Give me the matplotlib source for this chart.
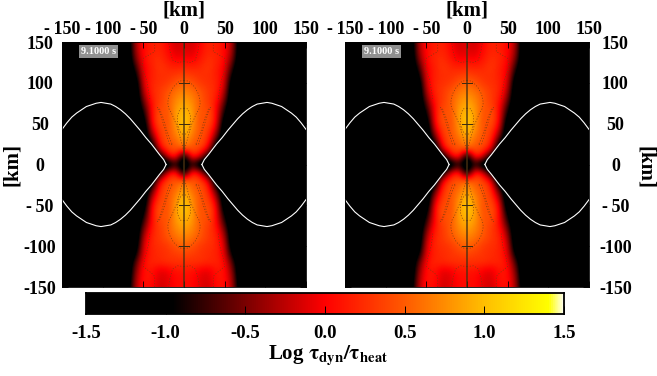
import numpy as np
import matplotlib
matplotlib.use("Agg")
import matplotlib.pyplot as plt
from matplotlib.colors import LinearSegmentedColormap

plt.rcParams["font.family"] = ["Liberation Serif", "DejaVu Serif"]
plt.rcParams["font.weight"] = "bold"
plt.rcParams["mathtext.fontset"] = "stix"

# log tau values, columns are |x| = 0, 10, ... 80 km
tau_rows = [
    [-0.10, -0.20, 0.00, 0.20, 0.15, 0.05, -0.30, -1.5, -1.5],
    [-0.10, -0.15, 0.05, 0.20, 0.15, 0.05, -0.35, -1.5, -1.5],
    [0.00, -0.05, 0.10, 0.25, 0.20, 0.05, -0.50, -1.5, -1.5],
    [0.20, 0.15, 0.20, 0.30, 0.15, 0.00, -0.80, -1.5, -1.5],
    [0.35, 0.30, 0.25, 0.25, 0.15, -0.05, -1.10, -1.5, -1.5],
    [0.55, 0.45, 0.30, 0.25, 0.20, -0.10, -1.40, -1.5, -1.5],
    [0.70, 0.60, 0.45, 0.30, 0.20, -0.25, -1.5, -1.5, -1.5],
    [0.85, 0.70, 0.50, 0.30, 0.15, -0.50, -1.5, -1.5, -1.5],
    [0.95, 0.80, 0.45, 0.40, 0.05, -0.80, -1.5, -1.5, -1.5],
    [1.05, 0.85, 0.40, 0.50, 0.05, -1.10, -1.5, -1.5, -1.5],
    [1.10, 0.80, 0.40, 0.45, 0.00, -1.40, -1.5, -1.5, -1.5],
    [1.05, 0.70, 0.45, 0.35, -0.30, -1.5, -1.5, -1.5, -1.5],
    [0.85, 0.55, 0.45, 0.25, -0.80, -1.5, -1.5, -1.5, -1.5],
    [0.60, 0.45, 0.40, 0.00, -1.5, -1.5, -1.5, -1.5, -1.5],
    [-1.30, 0.30, -0.10, -1.20, -1.5, -1.5, -1.5, -1.5, -1.5],
    [-1.5, -0.9, -1.5, -1.5, -1.5, -1.5, -1.5, -1.5, -1.5],
    [-1.30, 0.30, -0.10, -1.20, -1.5, -1.5, -1.5, -1.5, -1.5],
    [0.60, 0.45, 0.40, 0.00, -1.5, -1.5, -1.5, -1.5, -1.5],
    [0.85, 0.55, 0.45, 0.25, -0.80, -1.5, -1.5, -1.5, -1.5],
    [1.05, 0.70, 0.45, 0.35, -0.30, -1.5, -1.5, -1.5, -1.5],
    [1.10, 0.80, 0.40, 0.45, 0.00, -1.40, -1.5, -1.5, -1.5],
    [1.05, 0.85, 0.40, 0.50, 0.05, -1.10, -1.5, -1.5, -1.5],
    [0.95, 0.80, 0.45, 0.40, 0.05, -0.80, -1.5, -1.5, -1.5],
    [0.85, 0.70, 0.50, 0.30, 0.15, -0.50, -1.5, -1.5, -1.5],
    [0.70, 0.60, 0.45, 0.30, 0.20, -0.25, -1.5, -1.5, -1.5],
    [0.55, 0.45, 0.30, 0.25, 0.20, -0.10, -1.40, -1.5, -1.5],
    [0.38, 0.32, 0.28, 0.22, 0.18, -0.05, -1.10, -1.5, -1.5],
    [0.25, 0.25, 0.25, 0.20, 0.20, 0.05, -0.70, -1.5, -1.5],
    [0.10, 0.10, -0.05, -0.10, 0.10, 0.10, -0.50, -1.5, -1.5],
    [0.05, 0.05, -0.10, -0.15, 0.10, 0.10, -0.35, -1.5, -1.5],
    [0.05, 0.05, -0.10, -0.20, 0.05, 0.10, -0.30, -1.40, -1.5],
]

# white curve, one quarter of it
curve_x = [22, 25, 30, 40, 47, 54, 60, 66, 72, 78, 84, 90, 96, 102, 108, 114, 120, 126, 132, 138, 144, 150]
curve_y = [0, 6, 12, 25, 33, 42, 49, 56, 62, 67, 71, 74, 75, 76, 75, 73, 71, 67, 63, 58, 51, 43]

# dotted iso-lines, one side of the axis, km
drop_x = [0, 6, 13, 18, 20, 19, 15, 9, 5, 1]
drop_y = [103, 102, 95, 86, 76, 69, 62, 48, 34, 19]
ellipse_x = [0, 5, 8, 8, 6, 3, 0]
ellipse_y = [69, 68, 60, 50, 42, 38, 36]
side_x = [33, 30, 26, 22, 17, 14, 18, 22, 26, 30, 33]
side_y = [70, 68, 58, 44, 30, 24, 25, 38, 52, 64, 70]
outer_top_x = [36, 36, 40, 50, 52, 46, 44, 42]
outer_top_y = [150, 138, 136, 130, 118, 104, 92, 80]
outer_bot_x = [36, 36, 40, 50, 48, 44, 42]
outer_bot_y = [-150, -137, -133, -125, -114, -100, -84]
u_top_x = [0, 8, 14, 17, 19]
u_top_y = [126, 125, 128, 138, 150]
u_bot_x = [0, 8, 14, 17, 19]
u_bot_y = [-125, -124, -128, -138, -150]

ticks = [-150, -100, -50, 0, 50, 100, 150]
top_labels = ["-\u2009150", "-\u2009100", "-\u200950", "0", "50", "100", "150"]
side_labels = ["-150", "-100", "-\u200950", "0", "50", "100", "150"]
bar_ticks = [-1.5, -1.0, -0.5, 0.0, 0.5, 1.0, 1.5]
bar_labels = ["-1.5", "-1.0", "-0.5", "0.0", "0.5", "1.0", "1.5"]

W, H = 657, 376
cmap = LinearSegmentedColormap.from_list("heat", [
    (0.0, "#000000"), (0.18, "#000000"), (0.333, "#7a0000"), (0.5, "#ff0000"),
    (0.667, "#ff5a00"), (0.833, "#ffbe00"), (0.97, "#ffff00"), (1.0, "#ffffe8")])

half = np.array(tau_rows)
tau = np.hstack([np.full((half.shape[0], 7), -1.5), half[:, :0:-1], half,
                 np.full((half.shape[0], 7), -1.5)])


def px_axes(fig, x0, y0, x1, y1):
    return fig.add_axes([x0 / W, 1 - y1 / H, (x1 - x0) / W, (y1 - y0) / H])


def iso_line(ax, xs, ys, both=True):
    xs = np.array(xs)
    ys = np.array(ys)
    for sx in (-1, 1):
        for sy in ((-1, 1) if both else (1,)):
            ax.plot(sx * xs, sy * ys, color="#7a3a10", lw=0.5, ls=(0, (1.5, 2.5)))


def panel(ax):
    ax.imshow(tau, extent=[-155, 155, -155, 155], origin="upper", cmap=cmap, vmin=-1.5, vmax=1.5,
              interpolation="bicubic", aspect="auto")
    iso_line(ax, drop_x, drop_y)
    iso_line(ax, ellipse_x, ellipse_y)
    iso_line(ax, side_x, side_y)
    iso_line(ax, outer_top_x, outer_top_y, both=False)
    iso_line(ax, outer_bot_x, outer_bot_y, both=False)
    iso_line(ax, u_top_x, u_top_y, both=False)
    iso_line(ax, u_bot_x, u_bot_y, both=False)
    ax.set_xlim(-150, 150)
    ax.set_ylim(-150, 150)
    cx = np.array(curve_x)
    cy = np.array(curve_y)
    for sx in (-1, 1):
        for sy in (-1, 1):
            ax.plot(sx * cx, sy * cy, color="white", lw=0.8)
    ax.plot([0, 0], [-150, 150], color="#4a3010", lw=1.1, alpha=0.9)
    for yy in (-100, -50, 50, 100):
        ax.plot([-6, 6], [yy, yy], color="#3a2a10", lw=0.7)
    ax.set_xticks(ticks)
    ax.set_yticks(ticks)
    ax.tick_params(direction="in", length=4, width=0.6, color="black", labelsize=13, pad=3,
                   top=True, bottom=True, left=True, right=True, labeltop=True, labelbottom=False)
    ax.set_xticklabels(top_labels)
    ax.set_yticklabels(side_labels)
    for s in ax.spines.values():
        s.set_linewidth(0.6)
    ax.text(-105, 138, "9.1000 s", color="white", fontsize=7.5, ha="center", va="center",
            bbox=dict(boxstyle="square,pad=0.2", fc="#909090", ec="none"))


fig = plt.figure(figsize=(W / 100, H / 100), dpi=100)

left = px_axes(fig, 62, 42, 306, 287)
panel(left)
left.tick_params(axis="y", labelleft=True, labelright=False, pad=16)
for lab in left.get_yticklabels():
    lab.set_ha("center")
right = px_axes(fig, 345, 42, 589, 287)
panel(right)
right.tick_params(axis="y", labelleft=False, labelright=True, pad=19)
for lab in right.get_yticklabels():
    lab.set_ha("center")

fig.text(184 / W, 1 - 11 / H, "[km]", fontsize=15, ha="center", va="center")
fig.text(467 / W, 1 - 11 / H, "[km]", fontsize=15, ha="center", va="center")
fig.text(12 / W, 1 - 164 / H, "[km]", fontsize=15, ha="center", va="center", rotation=90)
fig.text(645 / W, 1 - 167 / H, "[km]", fontsize=15, ha="center", va="center", rotation=270)

cax = px_axes(fig, 86, 293, 564, 314)
grad = np.linspace(-1.5, 1.5, 512).reshape(1, -1)
cax.imshow(grad, extent=[-1.5, 1.5, 0, 1], aspect="auto", cmap=cmap, vmin=-1.5, vmax=1.5)
cax.set_yticks([])
cax.set_xticks(bar_ticks)
cax.set_xticklabels(bar_labels)
cax.tick_params(axis="x", direction="in", length=6, width=0.7, color="black", labelsize=13.5, pad=8)
for s in cax.spines.values():
    s.set_linewidth(1.3)

fig.text(0.5, 1 - 356 / H, r"Log $\mathbf{\tau_{dyn}/\tau_{heat}}$", fontsize=15, ha="center", va="center")

fig.savefig("out.png", dpi=100)
